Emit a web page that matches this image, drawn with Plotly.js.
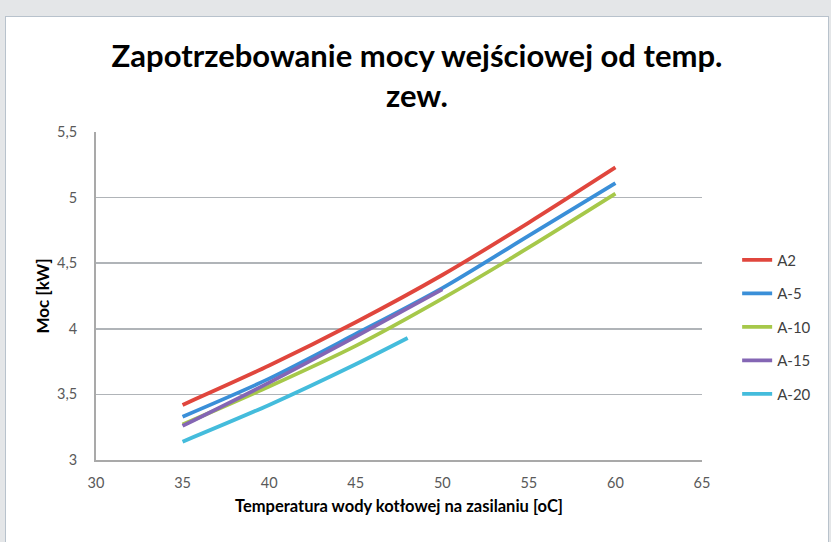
<!DOCTYPE html>
<html>
<head>
<meta charset="utf-8">
<script src="https://cdn.plot.ly/plotly-3.0.1.min.js"></script>
<style>
  html, body { margin: 0; padding: 0; background: #e4e6e8; width: 831px; height: 542px; overflow: hidden; }
  #frame { position: absolute; left: 5px; top: 16px; width: 822px; height: 526px; background: #ffffff; border-left: 1px solid #b8c2cc; border-top: 1px solid #b8c2cc; border-right: 1px solid #b8c2cc; }
  #chart { width: 822px; height: 526px; }
</style>
</head>
<body>
<div id="frame"><div id="chart"></div></div>
<script>
const seriesNames = ["A2", "A-5", "A-10", "A-15", "A-20"];
const tempA2  = [35, 40, 45, 50, 55, 60];
const valA2   = [3.42, 3.72, 4.05, 4.41, 4.81, 5.23];
const tempA5  = [35, 40, 45, 50, 55, 60];
const valA5   = [3.33, 3.62, 3.96, 4.31, 4.71, 5.11];
const tempA10 = [35, 40, 45, 50, 55, 60];
const valA10  = [3.27, 3.56, 3.87, 4.23, 4.62, 5.03];
const tempA15 = [35, 40, 45, 50];
const valA15  = [3.26, 3.59, 3.94, 4.30];
const tempA20 = [35, 40, 45, 48];
const valA20  = [3.14, 3.42, 3.73, 3.93];
const yTicks = [3, 3.5, 4, 4.5, 5, 5.5];
const xTicks = [30, 35, 40, 45, 50, 55, 60, 65];

const colors = ["#e0463d", "#3a8fd8", "#a6c84a", "#8466b4", "#44bcdc"];
const xs = [tempA2, tempA5, tempA10, tempA15, tempA20];
const ys = [valA2, valA5, valA10, valA15, valA20];

const traces = seriesNames.map((n, i) => ({
  type: "scatter", mode: "lines", name: n,
  x: xs[i], y: ys[i],
  legendgroup: "g" + i,
  line: { color: colors[i], width: 3.8, shape: "spline", smoothing: 0.8 }
}));

const font = "Lato, 'Open Sans', sans-serif";
const layout = {
  width: 822, height: 526,
  margin: { l: 90, r: 126, t: 115, b: 83 },
  paper_bgcolor: "#ffffff", plot_bgcolor: "#ffffff",
  separators: ", ",
  font: { family: font, color: "#595959", size: 13 },
  title: {
    text: "<b>Zapotrzebowanie mocy wejściowej od temp.<br>zew.</b>",
    font: { family: font, size: 31, color: "#000000" },
    x: 0.5, xref: "container", xanchor: "center",
    y: 0.905, yref: "container", yanchor: "top"
  },
  xaxis: {
    range: [30, 65], tickvals: xTicks, showgrid: false,
    showline: true, linecolor: "#a9a9a9", linewidth: 2,
    ticks: "", ticklabelstandoff: 9, zeroline: false,
    tickfont: { size: 14.5, color: "#595959" },
    title: { text: "<b>Temperatura wody kotłowej na zasilaniu [oC]</b>", font: { size: 16.5, color: "#000000" }, standoff: 10 }
  },
  yaxis: {
    range: [3, 5.5], tickvals: yTicks, showgrid: true, gridcolor: "#b0b4b8", gridwidth: 1.5,
    showline: true, linecolor: "#a9a9a9", linewidth: 2,
    ticks: "", ticklabelstandoff: 14, zeroline: false,
    tickfont: { size: 14.5, color: "#595959" },
    title: { text: "<b>Moc [kW]</b>", font: { size: 17, color: "#000000" }, standoff: 3 }
  },
  legend: {
    x: 1.058, xref: "paper", xanchor: "left", y: 0.405, yanchor: "middle",
    traceorder: "grouped", tracegroupgap: 11,
    font: { size: 15, color: "#404040" },
    bgcolor: "rgba(0,0,0,0)"
  },
  showlegend: true
};

Plotly.newPlot("chart", traces, layout, { displayModeBar: false, staticPlot: true });
</script>
</body>
</html>
